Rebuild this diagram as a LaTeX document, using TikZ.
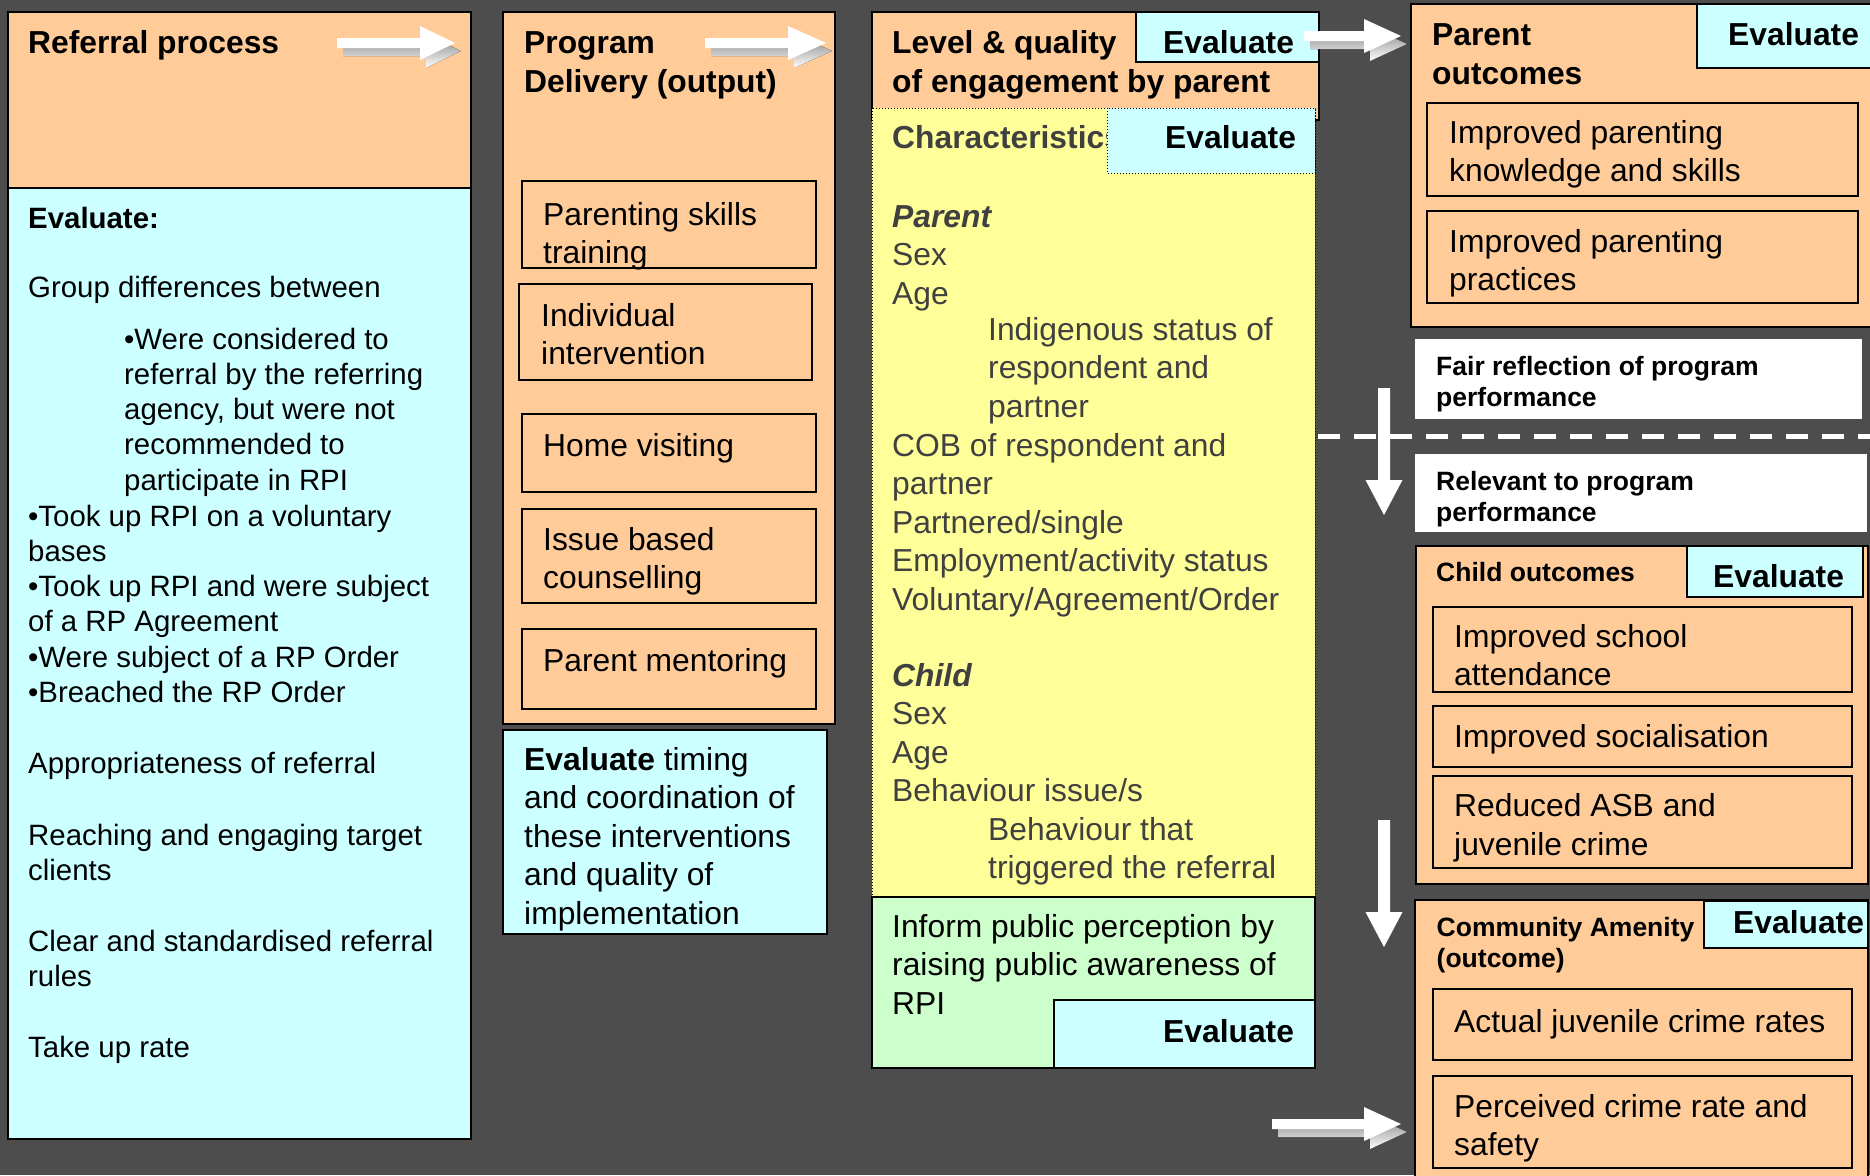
\documentclass[tikz,border=0pt]{standalone}
\usepackage{fontspec}
\setmainfont{Liberation Sans}
\definecolor{bg}{HTML}{4D4D4D}
\definecolor{peach}{HTML}{FFCC99}
\definecolor{aqua}{HTML}{CCFFFF}
\definecolor{lemon}{HTML}{FFFF99}
\definecolor{mint}{HTML}{CCFFCC}
\definecolor{greytext}{HTML}{404040}
\definecolor{shade}{HTML}{8C8C8C}
\newcommand\fl{\rule{0pt}{0.75em}}
\newcommand\blockarrow[4]{%
  \fill[shade, shift={(6,8)}] (#1,#4-5) -- (#2,#4-5) -- (#2,#4-17) -- (#3,#4) -- (#2,#4+17) -- (#2,#4+5) -- (#1,#4+5) -- cycle;
  \fill[white] (#1,#4-5) -- (#2,#4-5) -- (#2,#4-17) -- (#3,#4) -- (#2,#4+17) -- (#2,#4+5) -- (#1,#4+5) -- cycle;}
\newcommand\vblockarrow[4]{%
  \fill[white] (#1-6,#2) -- (#1+6,#2) -- (#1+6,#3) -- (#1+18.5,#3) -- (#1,#4) -- (#1-18.5,#3) -- (#1-6,#3) -- cycle;}
\tikzset{
  outerbox/.style={draw=black, line width=2.2pt, fill=peach},
  innerbox/.style={draw=black, line width=2pt, fill=peach},
  evalbox/.style={draw=black, line width=2pt, fill=aqua},
  tb/.style={anchor=north west, inner sep=0pt, align=left, yshift=23.85pt, font=\fontsize{31.8}{38.5}\selectfont},
  hb/.style={tb, font=\bfseries\fontsize{31.8}{39.5}\selectfont},
  gt/.style={tb, text=greytext},
  lt/.style={anchor=north west, inner sep=0pt, align=left, yshift=22.05pt, font=\fontsize{29.4}{35.2}\selectfont},
  sb/.style={anchor=north west, inner sep=0pt, align=left, yshift=19.875pt, font=\bfseries\fontsize{26.5}{31}\selectfont},
}
\begin{document}
\begin{tikzpicture}[x=1pt,y=-1pt]
\useasboundingbox (0,0) rectangle (1870,1175);
\clip (0,0) rectangle (1870,1175);
\fill[bg] (0,0) rectangle (1870,1175);

% ---------- Column 1: referral process
\draw[outerbox] (8,12) rectangle (471,188);
\draw[outerbox, fill=aqua] (8,188) rectangle (471,1139);
\node[hb] (refT) at (28,53) {\fl Referral process};
\blockarrow{337}{420}{455}{43}
\node[lt] (evalL) at (28,228) {\fl\textbf{Evaluate:}};
\node[lt] (grp) at (28,297) {\fl Group differences between};
\node[lt] (cons) at (124,349) {\fl •Were considered to\\referral by the referring\\agency, but were not\\recommended to\\participate in RPI};
\node[lt] (took) at (28,526) {\fl •Took up RPI on a voluntary\\bases\\•Took up RPI and were subject\\of a RP Agreement\\•Were subject of a RP Order\\•Breached the RP Order};
\node[lt] (appr) at (28,773) {\fl Appropriateness of referral};
\node[lt] (reach) at (28,845) {\fl Reaching and engaging target\\clients};
\node[lt] (clear) at (28,951) {\fl Clear and standardised referral\\rules};
\node[lt] (take) at (28,1057) {\fl Take up rate};

% ---------- Column 2: program delivery
\draw[outerbox] (503,12) rectangle (835,724);
\node[hb] (progT) at (524,53) {\fl Program\\Delivery (output)};
\blockarrow{705}{788}{826}{43}
\draw[innerbox] (522,181) rectangle (816,268);
\node[tb] (pst) at (543,225) {\fl Parenting skills\\training};
\draw[innerbox] (519,284) rectangle (812,380);
\node[tb] (indiv) at (541,326) {\fl Individual\\intervention};
\draw[innerbox] (522,414) rectangle (816,492);
\node[tb] (home) at (543,456) {\fl Home visiting};
\draw[innerbox] (522,509) rectangle (816,603);
\node[tb] (issue) at (543,550) {\fl Issue based\\counselling};
\draw[innerbox] (522,629) rectangle (816,709);
\node[tb] (ment) at (543,671) {\fl Parent mentoring};
\draw[evalbox] (503,730) rectangle (827,934);
\node[tb] (timing) at (524,770) {\fl\textbf{Evaluate} timing\\and coordination of\\these interventions\\and quality of\\implementation};

% ---------- Column 3: engagement
\draw[outerbox] (872,12) rectangle (1319,120);
\draw[evalbox] (1136,12) rectangle (1319,62);
\node[hb] (lvl) at (892,53) {\fl Level \& quality\\of engagement by parent};
\node[hb] (ev1) at (1163,53) {\fl Evaluate};
\draw[fill=lemon, draw=black, line width=1pt, dotted] (872,108) rectangle (1315,896);
\node[hb, text=greytext] (chr) at (892,148) {\fl Characteristics};
\draw[fill=aqua, draw=black, line width=1pt, dotted] (1107,108) rectangle (1315,173);
\node[hb] (ev2) at (1165,148) {\fl Evaluate};
\node[gt] (parent) at (892,227) {\fl\textbf{\textit{Parent}}\\Sex\\Age};
\node[gt] (indig) at (988,340) {\fl Indigenous status of\\respondent and\\partner};
\node[gt] (cob) at (892,456) {\fl COB of respondent and\\partner\\Partnered/single\\Employment/activity status\\Voluntary/Agreement/Order};
\node[gt] (child) at (892,686) {\fl\textbf{\textit{Child}}\\Sex\\Age\\Behaviour issue/s};
\node[gt] (behav) at (988,840) {\fl Behaviour that\\triggered the referral};
\draw[fill=mint, draw=black, line width=2pt] (872,897) rectangle (1315,1068);
\draw[evalbox] (1054,1000) rectangle (1315,1068);
\node[tb] (inform) at (892,937) {\fl Inform public perception by\\raising public awareness of\\RPI};
\node[hb] (ev3) at (1163,1042) {\fl Evaluate};
\blockarrow{1304}{1364}{1401}{36}

% ---------- Column 4: outcomes
\draw[outerbox] (1411,4) rectangle (1880,327);
\draw[evalbox] (1697,4) rectangle (1880,68);
\node[hb] (parT) at (1432,45) {\fl Parent\\outcomes};
\node[hb] (ev4) at (1728,45) {\fl Evaluate};
\draw[innerbox] (1427,103) rectangle (1858,196);
\node[tb] (ipk) at (1449,143) {\fl Improved parenting\\knowledge and skills};
\draw[innerbox] (1427,211) rectangle (1858,303);
\node[tb] (ipp) at (1449,252) {\fl Improved parenting\\practices};

\fill[white] (1415,339) rectangle (1862,419);
\node[sb] (fair) at (1436,375.5) {\fl Fair reflection of program\\performance};
\draw[white, line width=5pt, dash pattern=on 22pt off 14pt] (1318,436) -- (1870,436);
\fill[white] (1415,454) rectangle (1867,532);
\node[sb] (relev) at (1436,490) {\fl Relevant to program\\performance};
\vblockarrow{1384}{388}{480}{515}

\draw[outerbox] (1416,546) rectangle (1868,884);
\draw[evalbox] (1687,546) rectangle (1863,597);
\node[sb] (chT) at (1436,581) {\fl Child outcomes};
\node[hb] (ev5) at (1713,587) {\fl Evaluate};
\draw[innerbox] (1433,607) rectangle (1852,692);
\node[tb] (isa) at (1454,647) {\fl Improved school\\attendance};
\draw[innerbox] (1433,706) rectangle (1852,767);
\node[tb] (isoc) at (1454,747) {\fl Improved socialisation};
\draw[innerbox] (1433,776) rectangle (1852,868);
\node[tb] (rasb) at (1454,816.5) {\fl Reduced ASB and\\juvenile crime};
\vblockarrow{1384}{820}{912}{947}

\draw[outerbox] (1415,900) rectangle (1868,1190);
\draw[evalbox] (1704,901) rectangle (1868,948);
\node[sb] (comT) at (1436.5,936) {\fl Community Amenity\\(outcome)};
\node[hb] (ev6) at (1733,933) {\fl Evaluate};
\draw[innerbox] (1433,989) rectangle (1852,1060);
\node[tb] (ajc) at (1454,1032) {\fl Actual juvenile crime rates};
\draw[innerbox] (1433,1076) rectangle (1852,1168);
\node[tb] (pcr) at (1454,1117) {\fl Perceived crime rate and\\safety};
\blockarrow{1272}{1364}{1401}{1124}
\end{tikzpicture}
\end{document}
